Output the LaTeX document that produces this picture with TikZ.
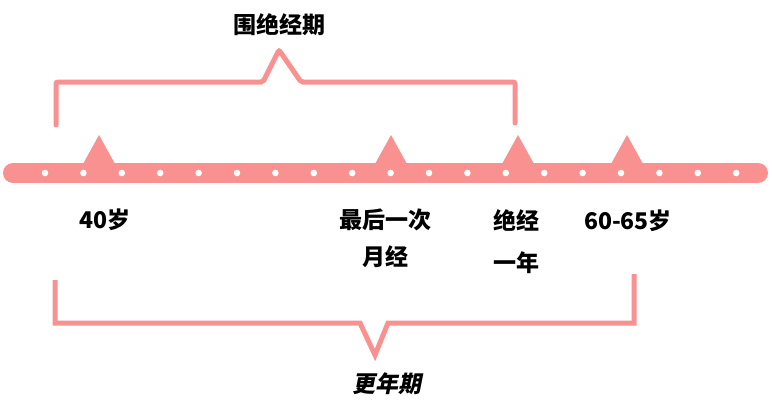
\documentclass[tikz,border=0pt]{standalone}
\usepackage{fontspec}
\newfontfamily\cjk{Noto Sans CJK SC}
\newfontfamily\cjkslant[FakeSlant=0.2]{Noto Sans CJK SC}
\usetikzlibrary{positioning}
\definecolor{salmon}{RGB}{250,145,145}

\begin{document}
\begin{tikzpicture}[x=1pt,y=-1pt,
    brace/.style={draw=salmon,line width=5pt},
    every node/.style={font=\cjk\bfseries\fontsize{23}{37}\selectfont,inner sep=0pt,align=center}]
  \useasboundingbox (0,0) rectangle (772,410);
  % timeline
  \draw[salmon,line width=20pt,line cap=round] (13,173) -- (758,173);
  \foreach \i in {0,...,18}
    \fill[white] (45+38.4*\i,173) circle (3.3pt);
  \foreach \x in {99,391,518,627}
    \fill[salmon] (\x-16,164) -- (\x,135) -- (\x+16,164) -- cycle;
  % labels
  \node (l40) at (105,220) {40岁};
  \node (llast) at (385,238) {最后一次\\月经};
  \node[font=\cjk\bfseries\fontsize{23}{42}\selectfont] (lyear) at (516,242) {绝经\\一年};
  \node (l60) at (628,221) {60-65岁};
  \node (peri) at (279,25) {围绝经期};
  \node[font=\cjkslant\bfseries\fontsize{23}{30}\selectfont] (meno) at (387,384) {更年期};
  % brackets
  \coordinate (pa) at (56,125);
  \coordinate (pb) at (515,123);
  \coordinate (ma) at (55,280);
  \coordinate (mb) at (634,274);
  \draw[brace,line cap=round,rounded corners=2pt] (pa) |- (263,82) -- (peri.south |- 0,50) -- (301,82) -| (pb);
  \draw[brace] (ma) |- (360,323) -- (375,355) -- (388,323) -| (mb);
\end{tikzpicture}
\end{document}
